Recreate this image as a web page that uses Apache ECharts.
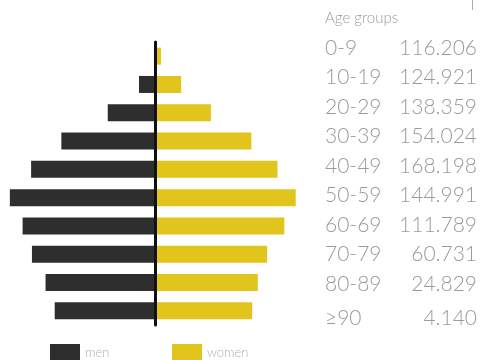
<!DOCTYPE html>
<html>
<head>
<meta charset="utf-8">
<script src="https://cdn.jsdelivr.net/npm/echarts@6/dist/echarts.min.js"></script>
<style>
html,body{margin:0;padding:0;background:#fff;}
#chart{width:485px;height:360px;}
</style>
</head>
<body>
<div id="chart"></div>
<script>
// Data (thousands)
const ageGroups = ['0-9','10-19','20-29','30-39','40-49','50-59','60-69','70-79','80-89','\u226590'];
const totals = ['116.206','124.921','138.359','154.024','168.198','144.991','111.789','60.731','24.829','4.140'];
const men = [59.0, 64.4, 72.4, 77.9, 85.4, 72.9, 55.1, 27.8, 9.4, 0.6];
const women = [57.2, 60.5, 66.0, 76.1, 82.8, 72.1, 56.7, 32.9, 15.4, 3.5];
const seriesNames = ['men', 'women'];
const tableTitle = 'Age groups';

const FONT = '"Lato Light", "Lato Hairline", Lato, "Open Sans", sans-serif';
const TXT = '#9a9a9a';

const chart = echarts.init(document.getElementById('chart'), null, {renderer: 'canvas'});

const graphics = [
  {type: 'text', left: 325, top: 11, style: {text: tableTitle, font: '300 15px ' + FONT, fill: TXT}},
  {type: 'line', shape: {x1: 472.5, y1: 0, x2: 472.5, y2: 10}, style: {stroke: '#aaa', lineWidth: 1}}
];
ageGroups.forEach((g, i) => {
  const y = 48 + i * 29.5 + (i === ageGroups.length - 1 ? 4.5 : 0);
  graphics.push({type: 'text', x: 325, y: y, style: {text: g, font: '300 21px ' + FONT, fill: TXT, textVerticalAlign: 'middle', textAlign: 'left'}});
  graphics.push({type: 'text', x: 477, y: y, style: {text: totals[i], font: '300 21px ' + FONT, fill: TXT, textVerticalAlign: 'middle', textAlign: 'right'}});
});

const legendText = {color: '#b0b0b0', fontSize: 13, fontFamily: FONT, fontWeight: 300};

chart.setOption({
  animation: false,
  backgroundColor: '#fff',
  grid: {left: 0, width: 310, top: 42, height: 283},
  xAxis: {
    type: 'value', min: -91.2, max: 91.2,
    show: false
  },
  yAxis: {
    type: 'category', data: ageGroups, z: 5,
    axisLine: {show: true, onZero: true, lineStyle: {color: '#111', width: 3}},
    axisTick: {show: false}, axisLabel: {show: false}, splitLine: {show: false}
  },
  legend: [
    {data: [seriesNames[0]], left: 50, top: 344, padding: 0, itemWidth: 30, itemHeight: 17, icon: 'rect',
     textStyle: legendText, selectedMode: false},
    {data: [seriesNames[1]], left: 172, top: 344, padding: 0, itemWidth: 30, itemHeight: 17, icon: 'rect',
     textStyle: legendText, selectedMode: false}
  ],
  series: [
    {name: seriesNames[0], type: 'bar', stack: 'pop', barWidth: 17, itemStyle: {color: '#2e2e2e'},
     data: men.map(v => -v)},
    {name: seriesNames[1], type: 'bar', stack: 'pop', barWidth: 17, itemStyle: {color: '#e2c51c'},
     data: women}
  ],
  graphic: graphics
});
</script>
</body>
</html>
